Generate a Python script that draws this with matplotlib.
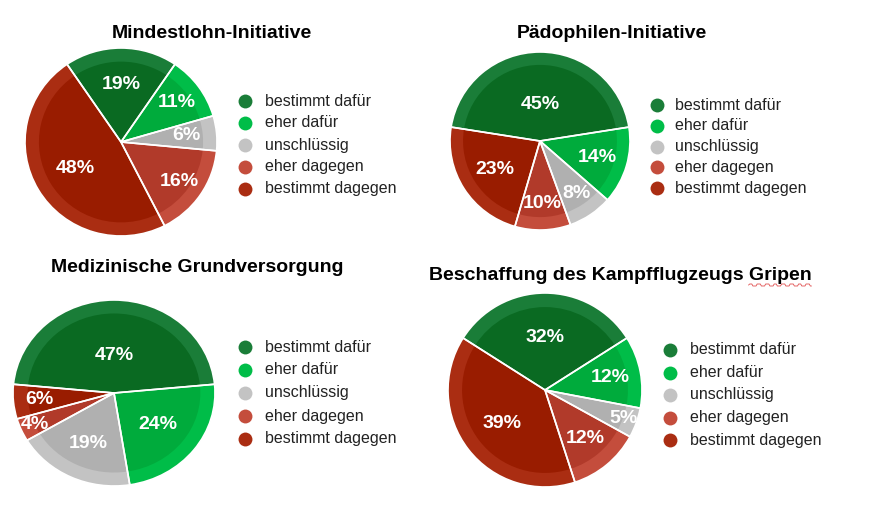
import numpy as np
import matplotlib
matplotlib.use("Agg")
import matplotlib.pyplot as plt
from matplotlib.lines import Line2D

plt.rcParams['font.family'] = ['Liberation Sans', 'DejaVu Sans']

# ---- data ----
categories = ["bestimmt dafür", "eher dafür", "unschlüssig", "eher dagegen", "bestimmt dagegen"]
titles = ["Mindestlohn-Initiative", "Pädophilen-Initiative",
          "Medizinische Grundversorgung", "Beschaffung des Kampfflugzeugs Gripen"]
mindestlohn = [19, 11, 6, 16, 48]
paedophilen = [45, 14, 8, 10, 23]
medizin = [47, 24, 19, 4, 6]
gripen = [32, 12, 5, 12, 39]
series = [mindestlohn, paedophilen, medizin, gripen]

# ---- style ----
ring_colors = ['#1a7d38', '#00bd48', '#c3c3c3', '#c44d3c', '#aa2d12']
inner_colors = ['#0a6a22', '#00ab3c', '#b0b0b0', '#b13a2a', '#991c00']

W, H = 873, 509
# pie geometry in pixels: cx, cy, rx, ry
pie_geom = [(121, 142, 96, 94), (540, 141, 90, 89), (114, 393, 101, 93), (545, 390, 97, 97)]
# radial fraction of each percentage label
label_r = [[0.61, 0.72, 0.68, 0.74, 0.55],
           [0.41, 0.66, 0.72, 0.70, 0.59],
           [0.40, 0.55, 0.60, 0.85, 0.74],
           [0.54, 0.68, 0.86, 0.65, 0.56]]
title_pos = [(212, 33), (612, 33), (197, 268), (620, 275)]
legend_pos = [(245, 265, 101, 22), (657, 675, 105, 20.8), (245, 265, 347, 23), (670, 690, 350, 22.5)]

fig = plt.figure(figsize=(W / 100, H / 100), dpi=100)
fig.patch.set_facecolor('white')

for k, vals in enumerate(series):
    cx, cy, rx, ry = pie_geom[k]
    ax = fig.add_axes([(cx - rx) / W, 1 - (cy + ry) / H, 2 * rx / W, 2 * ry / H])
    start = 90 + 1.8 * vals[0]
    ax.pie(vals, colors=ring_colors, startangle=start, counterclock=False,
           radius=1.0, wedgeprops=dict(linewidth=0))
    ax.pie(vals, colors=inner_colors, startangle=start, counterclock=False,
           radius=0.855, wedgeprops=dict(linewidth=0))
    wedges, _ = ax.pie(vals, colors=['none'] * len(vals), startangle=start, counterclock=False,
                       radius=1.0, wedgeprops=dict(linewidth=1.2, edgecolor='white', facecolor='none'))
    for i, w in enumerate(wedges):
        th = np.deg2rad((w.theta1 + w.theta2) / 2)
        r = label_r[k][i]
        ax.text(r * np.cos(th), r * np.sin(th), f"{vals[i]}%", ha='center', va='center',
                color='white', fontsize=14, fontweight='bold')
    ax.set_aspect('auto')
    ax.set_xlim(-1, 1)
    ax.set_ylim(-1, 1)
    ax.axis('off')

    tx, ty = title_pos[k]
    t = fig.text(tx / W, 1 - ty / H, titles[k], ha='center', va='center',
                 fontsize=14, fontweight='bold', color='black')

    mx, txx, y0, dy = legend_pos[k]
    for i, cat in enumerate(categories):
        y = y0 + i * dy
        fig.add_artist(Line2D([mx / W], [1 - y / H], marker='o', markersize=10,
                              markerfacecolor=ring_colors[i], markeredgewidth=0,
                              linestyle='none', transform=fig.transFigure))
        fig.text(txx / W, 1 - y / H, cat, ha='left', va='center', fontsize=11.5, color='#222222')

# spell-check squiggle under "Gripen"
fig.canvas.draw()
renderer = fig.canvas.get_renderer()
full = [t for t in fig.texts if t.get_text() == titles[3]][0]
bb = full.get_window_extent(renderer)
tmp = fig.text(0, 0, "Gripen", fontsize=14, fontweight='bold')
wg = tmp.get_window_extent(renderer).width
tmp.remove()
xs = np.linspace(bb.x1 - wg, bb.x1, 60)
ys = bb.y0 - 1.5 + 1.0 * np.sign(np.sin((xs - xs[0]) / 1.3))
fig.add_artist(Line2D(xs / W, ys / H, color='#e05050', linewidth=0.6,
                      transform=fig.transFigure))

fig.savefig("out.png", dpi=100, facecolor='white')
